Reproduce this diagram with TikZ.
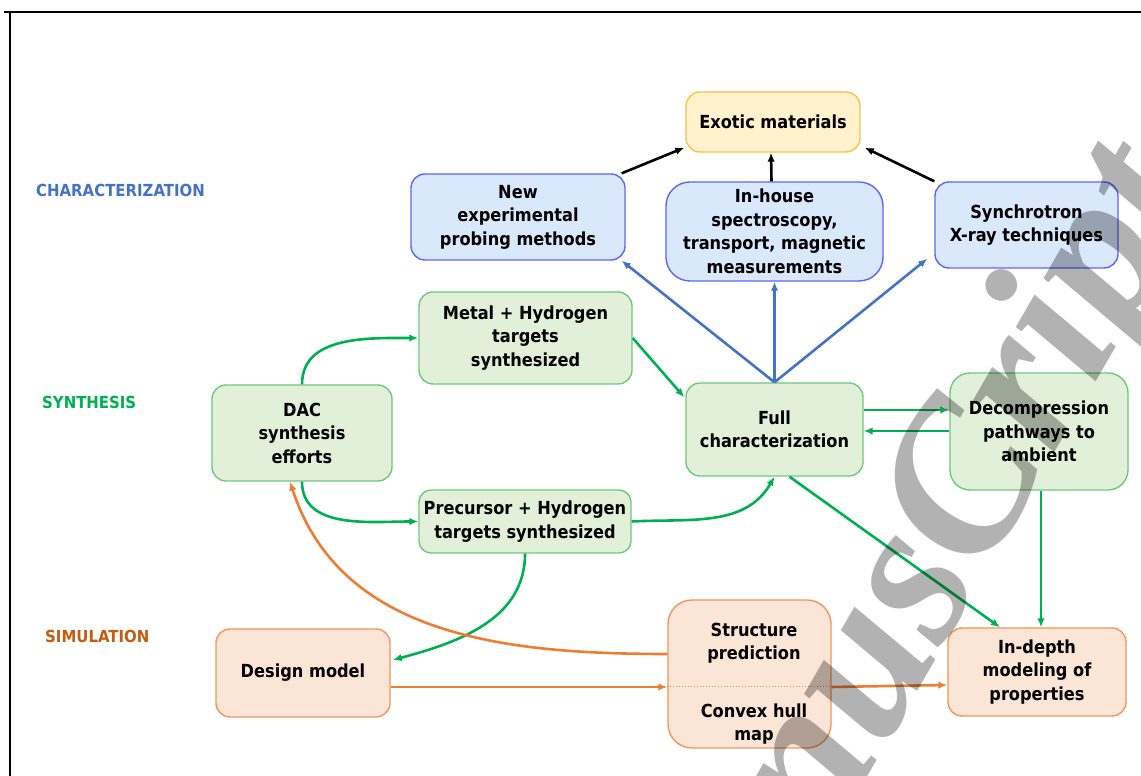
\documentclass[tikz,border=0pt]{standalone}
\usepackage{fontspec}
\setmainfont{DejaVu Sans}[FakeStretch=0.9]
\newfontfamily\wmfont{Liberation Serif}
\usetikzlibrary{arrows.meta,calc}
\definecolor{bfill}{RGB}{218,232,252}
\definecolor{bbord}{RGB}{95,100,250}
\definecolor{gfill}{RGB}{226,240,217}
\definecolor{gbord}{RGB}{110,200,125}
\definecolor{ofill}{RGB}{251,229,214}
\definecolor{obord}{RGB}{240,150,90}
\definecolor{yfill}{RGB}{255,242,204}
\definecolor{ybord}{RGB}{245,195,70}
\definecolor{cblue}{RGB}{68,114,196}
\definecolor{cgreen}{RGB}{0,176,80}
\definecolor{corange}{RGB}{237,125,49}
\definecolor{lblue}{RGB}{68,114,196}
\definecolor{lgreen}{RGB}{0,176,80}
\definecolor{lorange}{RGB}{197,90,17}
\begin{document}
\begin{tikzpicture}[x=1pt,y=1pt,
  box/.style={rounded corners=14pt, line width=1.4pt, align=center,
    font=\fontsize{18}{23.5}\selectfont\bfseries, inner sep=0pt},
  bluebox/.style={box, draw=bbord, fill=bfill},
  greenbox/.style={box, draw=gbord, fill=gfill},
  orangebox/.style={box, draw=obord, fill=ofill},
  yellowbox/.style={box, draw=ybord, fill=yfill},
  txt/.style={align=center, font=\fontsize{18}{23.5}\selectfont\bfseries, inner sep=0pt},
  lane/.style={anchor=west, font=\fontsize{16.6}{18}\selectfont\bfseries, inner sep=0pt},
  conn/.style={line width=2.6pt, -{Latex[length=9pt,width=7.5pt]}},
  bconn/.style={conn, draw=black},
  blconn/.style={conn, draw=cblue},
  gconn/.style={conn, draw=cgreen},
  oconn/.style={conn, draw=corange}
]
\useasboundingbox (0,0) rectangle (1141,776);
% frame
\draw[line width=2pt] (4,764) -- (1141,764);
\draw[line width=2pt] (10,764) -- (10,0);

% lane labels
\node[lane, text=lblue] (lchar) at (36,586) {CHARACTERIZATION};
\node[lane, text=lgreen] (lsyn) at (42,374) {SYNTHESIS};
\node[lane, text=lorange] (lsim) at (45,140) {SIMULATION};

% nodes
\node[yellowbox, minimum width=174pt, minimum height=60pt] (exo) at (773,654) {Exotic materials};
\node[bluebox, minimum width=214pt, minimum height=86pt] (newm) at (518,559) {New\\experimental\\probing methods};
\node[bluebox, rounded corners=24pt, minimum width=217pt, minimum height=99pt] (inh) at (774.5,544.5) {In-house\\spectroscopy,\\transport, magnetic\\measurements};
\node[bluebox, minimum width=183pt, minimum height=86pt] (syn) at (1026.5,551) {Synchrotron\\X-ray techniques};
\node[greenbox, minimum width=213pt, minimum height=92pt] (metal) at (525.5,438) {Metal + Hydrogen\\targets\\synthesized};
\node[greenbox, minimum width=180pt, minimum height=96pt] (dac) at (302,343) {DAC\\synthesis\\efforts};
\node[greenbox, minimum width=177pt, minimum height=93pt] (full) at (774.5,346.5) {Full\\characterization};
\node[greenbox, rounded corners=20pt, minimum width=178pt, minimum height=117pt] (dec) at (1039,344.5) {Decompression\\pathways to\\ambient};
\node[greenbox, rounded corners=12pt, minimum width=212pt, minimum height=63pt] (prec) at (525,254.5) {Precursor + Hydrogen\\targets synthesized};
\node[orangebox, minimum width=174pt, minimum height=88pt] (design) at (303,103) {Design model};
\node[orangebox, rounded corners=24pt, minimum width=163pt, minimum height=148pt] (struct) at (749.5,102) {};
\node[txt] (structT) at (754,133) {Structure\\prediction};
\node[txt] (structB) at (754,52) {Convex hull\\map};
\node[orangebox, minimum width=178pt, minimum height=88pt] (indepth) at (1037,104) {In-depth\\modeling of\\properties};

% helper coordinates
\coordinate (r1) at (0,366);
\coordinate (r2) at (0,345);
\coordinate (o1) at (0,89);
\coordinate (o2) at (0,122);

% black connectors
\draw[bconn] ($(newm.north east)+(-4,0)$) -- ($(exo.south west)+(-1,5)$);
\draw[bconn] ($(inh.north)+(-3,0)$) -- ($(exo.south)+(-2,0)$);
\draw[bconn] (syn.north west) -- ($(exo.south east)+(4,5)$);

% blue connectors
\draw[blconn] (full.north) -- ($(newm.south east)+(-4,0)$);
\draw[blconn] (full.north) -- (inh.south);
\draw[blconn] (full.north) -- ($(syn.south west)+(-7,10)$);

% green connectors
\draw[gconn] (dac.north) to[out=90,in=180] (metal.west);
\draw[gconn] (metal.east) -- ($(full.north west)+(-1,-15)$);
\draw[gconn] (dac.south) to[out=-90,in=180] (prec.west);
\draw[gconn] (prec.east) to[out=3,in=-120] (full.south);
\draw[gconn] (full.east |- r1) -- (dec.west |- r1);
\draw[gconn] (dec.west |- r2) -- (full.east |- r2);
\draw[gconn] ($(full.south)+(15,0)$) -- ($(indepth.north)+(-37,0)$);
\draw[gconn] ($(dec.south)+(2,0)$) -- ($(indepth.north)+(4,0)$);
\draw[gconn] (prec.south) to[out=-90,in=15] ($(design.east)+(2,13)$);

% orange connectors
\draw[oconn] (struct.west |- o2) to[out=180,in=-72] ($(dac.south)+(-12,0)$);
\draw[oconn] (design.east |- o1) -- (struct.west |- o1);
\draw[corange, line width=1pt, dotted] (struct.west |- o1) -- (struct.east |- o1);
\draw[oconn] (struct.east |- o1) -- ($(indepth.west)+(0,-13)$);

% watermark
\node[rotate=60, anchor=base west, text=black, text opacity=0.3, inner sep=0pt,
  font=\wmfont\bfseries\itshape\fontsize{210}{210}\selectfont] (wm) at (679,-328) {ManusCript};
\end{tikzpicture}
\end{document}
